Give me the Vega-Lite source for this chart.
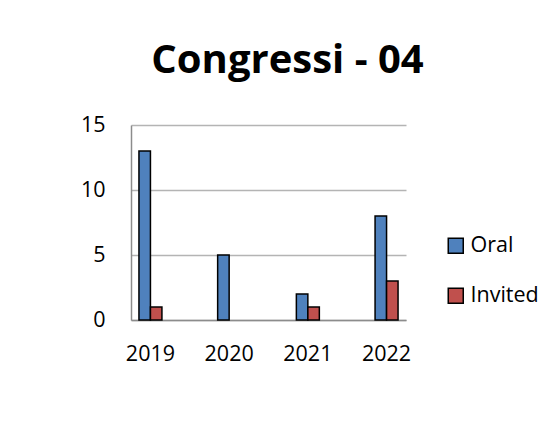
{
  "$schema": "https://vega.github.io/schema/vega-lite/v6.json",
  "autosize": {"type": "none"},
  "padding": {"left": 131, "top": 125, "right": 150, "bottom": 114},
  "width": 275,
  "height": 195,
  "background": "white",
  "title": {
    "text": "Congressi - 04",
    "font": "Open Sans",
    "fontSize": 40,
    "fontWeight": "bold",
    "color": "#000000",
    "anchor": "middle",
    "frame": "group",
    "baseline": "alphabetic",
    "offset": 1,
    "dx": 19
  },
  "data": {
    "values": [
      {"year": "2019", "series": "Oral", "value": 13},
      {"year": "2019", "series": "Invited", "value": 1},
      {"year": "2020", "series": "Oral", "value": 5},
      {"year": "2021", "series": "Oral", "value": 2},
      {"year": "2021", "series": "Invited", "value": 1},
      {"year": "2022", "series": "Oral", "value": 8},
      {"year": "2022", "series": "Invited", "value": 3}
    ]
  },
  "mark": {"type": "bar", "stroke": "#000000", "strokeWidth": 1.5},
  "encoding": {
    "x": {
      "field": "year",
      "type": "nominal",
      "scale": {"paddingInner": 0.708, "paddingOuter": 0.101},
      "axis": {
        "title": null,
        "labelAngle": 0,
        "ticks": false,
        "labelPadding": 23,
        "labelFont": "Open Sans",
        "labelFontSize": 21.5,
        "labelColor": "#000000",
        "domainColor": "#8c8c8c",
        "domainWidth": 1.5,
        "grid": false
      }
    },
    "xOffset": {"field": "series", "type": "nominal", "sort": ["Oral", "Invited"]},
    "y": {
      "field": "value",
      "type": "quantitative",
      "scale": {"domain": [0, 15]},
      "axis": {
        "title": null,
        "values": [0, 5, 10, 15],
        "ticks": false,
        "labelPadding": 26,
        "labelFont": "Open Sans",
        "labelFontSize": 21.5,
        "labelColor": "#000000",
        "domainColor": "#8c8c8c",
        "domainWidth": 1.5,
        "gridColor": "#b4b4b4",
        "gridWidth": 1.5
      }
    },
    "color": {
      "field": "series",
      "type": "nominal",
      "sort": ["Oral", "Invited"],
      "scale": {"domain": ["Oral", "Invited"], "range": ["#4f81bd", "#c0504d"]},
      "legend": {
        "title": null,
        "orient": "none",
        "legendX": 314,
        "legendY": 110,
        "symbolType": "square",
        "symbolSize": 225,
        "symbolStrokeColor": "#000000",
        "symbolStrokeWidth": 1.5,
        "symbolOpacity": 1,
        "labelFont": "Open Sans",
        "labelFontSize": 21.5,
        "labelColor": "#000000",
        "labelOffset": 4,
        "rowPadding": 27,
        "padding": 0
      }
    }
  },
  "config": {"view": {"stroke": null}}
}
